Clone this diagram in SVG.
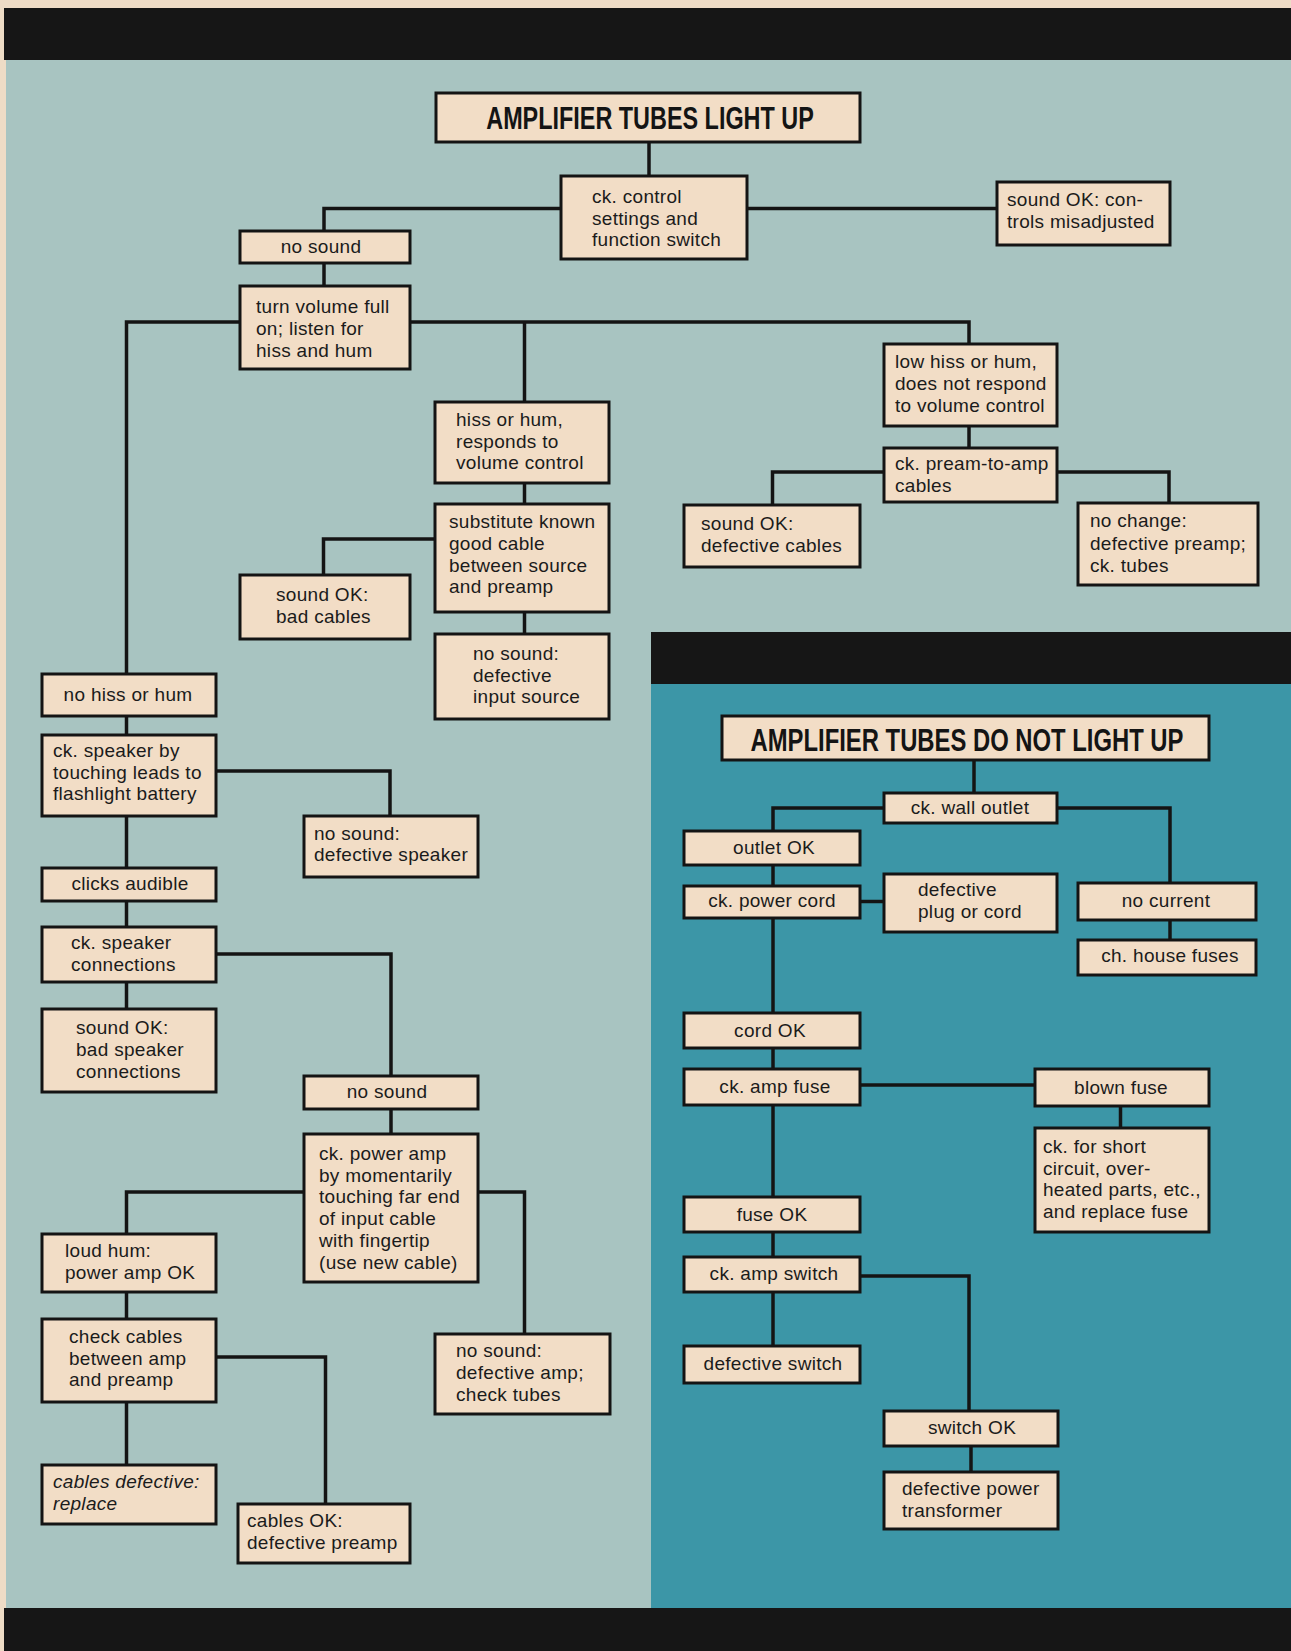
<svg xmlns="http://www.w3.org/2000/svg" width="1291" height="1651" viewBox="0 0 1291 1651">
<style>
.box{fill:#f2ddc6;stroke:#141414;stroke-width:3}
.t{font-family:"Liberation Sans",Arial,sans-serif;font-size:19px;fill:#1b1b1b;letter-spacing:0.3px}
.c{text-anchor:middle}
.ti{font-family:"Liberation Sans",Arial,sans-serif;font-weight:bold;fill:#141414;text-anchor:middle}
.it{font-style:italic}
#connectors path{fill:none;stroke:#141414;stroke-width:3.5}
</style>
<rect x="0" y="0" width="1291" height="1651" fill="#eedcc6"/>
<rect x="6" y="60" width="1285" height="1548" fill="#a8c4c1"/>
<rect x="651" y="684" width="640" height="924" fill="#3c96a7"/>
<rect x="651" y="632" width="640" height="52" fill="#161616"/>
<rect x="4" y="8" width="1287" height="52" fill="#161616"/>
<rect x="4" y="1608" width="1287" height="43" fill="#161616"/>

<g id="connectors">
<path d="M649 142V176"/>
<path d="M561 208.5H324V231"/>
<path d="M747 208.5H997"/>
<path d="M324 263V286"/>
<path d="M410 322H969V344"/>
<path d="M524.5 322V402"/>
<path d="M240 322H126.5V674"/>
<path d="M969 426V448"/>
<path d="M884 472H772.5V505"/>
<path d="M1057 472H1169V503"/>
<path d="M524.5 483V504"/>
<path d="M435 539H323.5V575"/>
<path d="M524.5 612V634"/>
<path d="M126.5 716V735"/>
<path d="M216 771H390V816"/>
<path d="M126.5 816V868"/>
<path d="M126.5 901V927"/>
<path d="M216 954H391V1076"/>
<path d="M126.5 982V1009"/>
<path d="M391 1109V1134"/>
<path d="M304 1192H126.5V1234"/>
<path d="M478 1192H524.5V1334"/>
<path d="M126.5 1292V1319"/>
<path d="M216 1357H325.5V1504"/>
<path d="M126.5 1402V1465"/>
<path d="M974 760V793"/>
<path d="M884 808H773V831"/>
<path d="M1057 808H1170V883"/>
<path d="M773 865V886"/>
<path d="M860 901.5H884"/>
<path d="M1170 920V940"/>
<path d="M773 918V1013"/>
<path d="M773 1048V1069"/>
<path d="M860 1085H1035"/>
<path d="M1120.5 1106V1128"/>
<path d="M773 1105V1197"/>
<path d="M773 1232V1257"/>
<path d="M860 1276H969V1411"/>
<path d="M773 1292V1346"/>
<path d="M971 1446V1472"/>
</g>

<g id="n-title1"><rect class="box" x="436" y="93" width="424" height="49"/><text class="ti" font-size="31" transform="translate(650 128.5) scale(0.755 1)">AMPLIFIER TUBES LIGHT UP</text></g>
<g id="n-ckcontrol"><rect class="box" x="561" y="176" width="186" height="83"/><text class="t" y="203"><tspan x="592">ck. control</tspan><tspan x="592" dy="21.5">settings and</tspan><tspan x="592" dy="21.5">function switch</tspan></text></g>
<g id="n-controls"><rect class="box" x="997" y="182" width="173" height="63"/><text class="t" y="206"><tspan x="1007">sound OK: con-</tspan><tspan x="1007" dy="22">trols misadjusted</tspan></text></g>
<g id="n-nosound1"><rect class="box" x="240" y="231" width="170" height="32"/><text class="t c" x="321" y="253">no sound</text></g>
<g id="n-turnvol"><rect class="box" x="240" y="286" width="170" height="83"/><text class="t" y="313"><tspan x="256">turn volume full</tspan><tspan x="256" dy="22">on; listen for</tspan><tspan x="256" dy="22">hiss and hum</tspan></text></g>
<g id="n-lowhiss"><rect class="box" x="884" y="344" width="173" height="82"/><text class="t" y="368"><tspan x="895">low hiss or hum,</tspan><tspan x="895" dy="22">does not respond</tspan><tspan x="895" dy="22">to volume control</tspan></text></g>
<g id="n-ckpream"><rect class="box" x="884" y="448" width="173" height="54"/><text class="t" y="470"><tspan x="895">ck. pream-to-amp</tspan><tspan x="895" dy="22">cables</tspan></text></g>
<g id="n-defcables"><rect class="box" x="684" y="505" width="176" height="62"/><text class="t" y="530"><tspan x="701">sound OK:</tspan><tspan x="701" dy="22">defective cables</tspan></text></g>
<g id="n-nochange"><rect class="box" x="1078" y="503" width="180" height="82"/><text class="t" y="527"><tspan x="1090">no change:</tspan><tspan x="1090" dy="22.5">defective preamp;</tspan><tspan x="1090" dy="22.5">ck. tubes</tspan></text></g>
<g id="n-hiss"><rect class="box" x="435" y="402" width="174" height="81"/><text class="t" y="426"><tspan x="456">hiss or hum,</tspan><tspan x="456" dy="21.5">responds to</tspan><tspan x="456" dy="21.5">volume control</tspan></text></g>
<g id="n-substitute"><rect class="box" x="435" y="504" width="174" height="108"/><text class="t" y="528"><tspan x="449">substitute known</tspan><tspan x="449" dy="21.8">good cable</tspan><tspan x="449" dy="21.8">between source</tspan><tspan x="449" dy="21.8">and preamp</tspan></text></g>
<g id="n-badcables"><rect class="box" x="240" y="575" width="170" height="64"/><text class="t" y="601"><tspan x="276">sound OK:</tspan><tspan x="276" dy="21.5">bad cables</tspan></text></g>
<g id="n-inputsource"><rect class="box" x="435" y="634" width="174" height="85"/><text class="t" y="660"><tspan x="473">no sound:</tspan><tspan x="473" dy="21.5">defective</tspan><tspan x="473" dy="21.5">input source</tspan></text></g>
<g id="n-nohiss"><rect class="box" x="42" y="674" width="174" height="42"/><text class="t c" x="128" y="701">no hiss or hum</text></g>
<g id="n-ckspeaker"><rect class="box" x="42" y="735" width="174" height="81"/><text class="t" y="757"><tspan x="53">ck. speaker by</tspan><tspan x="53" dy="21.5">touching leads to</tspan><tspan x="53" dy="21.5">flashlight battery</tspan></text></g>
<g id="n-defspeaker"><rect class="box" x="304" y="816" width="174" height="61"/><text class="t" y="840"><tspan x="314">no sound:</tspan><tspan x="314" dy="21">defective speaker</tspan></text></g>
<g id="n-clicks"><rect class="box" x="42" y="868" width="174" height="33"/><text class="t c" x="130" y="890">clicks audible</text></g>
<g id="n-ckspkconn"><rect class="box" x="42" y="927" width="174" height="55"/><text class="t" y="949"><tspan x="71">ck. speaker</tspan><tspan x="71" dy="21.5">connections</tspan></text></g>
<g id="n-badspkconn"><rect class="box" x="42" y="1009" width="174" height="83"/><text class="t" y="1034"><tspan x="76">sound OK:</tspan><tspan x="76" dy="22">bad speaker</tspan><tspan x="76" dy="22">connections</tspan></text></g>
<g id="n-nosound2"><rect class="box" x="304" y="1076" width="174" height="33"/><text class="t c" x="387" y="1098">no sound</text></g>
<g id="n-ckpoweramp"><rect class="box" x="304" y="1134" width="174" height="148"/><text class="t" y="1160"><tspan x="319">ck. power amp</tspan><tspan x="319" dy="21.7">by momentarily</tspan><tspan x="319" dy="21.7">touching far end</tspan><tspan x="319" dy="21.7">of input cable</tspan><tspan x="319" dy="21.7">with fingertip</tspan><tspan x="319" dy="21.7">(use new cable)</tspan></text></g>
<g id="n-loudhum"><rect class="box" x="42" y="1234" width="174" height="58"/><text class="t" y="1257"><tspan x="65">loud hum:</tspan><tspan x="65" dy="22">power amp OK</tspan></text></g>
<g id="n-checkcables"><rect class="box" x="42" y="1319" width="174" height="83"/><text class="t" y="1343"><tspan x="69">check cables</tspan><tspan x="69" dy="21.5">between amp</tspan><tspan x="69" dy="21.5">and preamp</tspan></text></g>
<g id="n-cablesdef"><rect class="box" x="42" y="1465" width="174" height="59"/><text class="t it" y="1488"><tspan x="53">cables defective:</tspan><tspan x="53" dy="22">replace</tspan></text></g>
<g id="n-cablesok"><rect class="box" x="238" y="1504" width="172" height="59"/><text class="t" y="1527"><tspan x="247">cables OK:</tspan><tspan x="247" dy="22">defective preamp</tspan></text></g>
<g id="n-defamp"><rect class="box" x="435" y="1334" width="175" height="80"/><text class="t" y="1357"><tspan x="456">no sound:</tspan><tspan x="456" dy="22">defective amp;</tspan><tspan x="456" dy="22">check tubes</tspan></text></g>

<g id="n-title2"><rect class="box" x="722" y="716" width="487" height="44"/><text class="ti" font-size="32" transform="translate(967 751) scale(0.745 1)">AMPLIFIER TUBES DO NOT LIGHT UP</text></g>
<g id="n-walloutlet"><rect class="box" x="884" y="793" width="173" height="30"/><text class="t c" x="970" y="814">ck. wall outlet</text></g>
<g id="n-outletok"><rect class="box" x="684" y="831" width="176" height="34"/><text class="t c" x="774" y="854">outlet OK</text></g>
<g id="n-powercord"><rect class="box" x="684" y="886" width="176" height="32"/><text class="t c" x="772" y="907">ck. power cord</text></g>
<g id="n-defplug"><rect class="box" x="884" y="874" width="173" height="58"/><text class="t" y="896"><tspan x="918">defective</tspan><tspan x="918" dy="22">plug or cord</tspan></text></g>
<g id="n-nocurrent"><rect class="box" x="1078" y="883" width="178" height="37"/><text class="t c" x="1166" y="907">no current</text></g>
<g id="n-housefuses"><rect class="box" x="1078" y="940" width="178" height="35"/><text class="t c" x="1170" y="962">ch. house fuses</text></g>
<g id="n-cordok"><rect class="box" x="684" y="1013" width="176" height="35"/><text class="t c" x="770" y="1037">cord OK</text></g>
<g id="n-ampfuse"><rect class="box" x="684" y="1069" width="176" height="36"/><text class="t c" x="775" y="1093">ck. amp fuse</text></g>
<g id="n-blownfuse"><rect class="box" x="1035" y="1069" width="174" height="37"/><text class="t c" x="1121" y="1094">blown fuse</text></g>
<g id="n-ckshort"><rect class="box" x="1035" y="1128" width="174" height="104"/><text class="t" y="1153"><tspan x="1043">ck. for short</tspan><tspan x="1043" dy="21.7">circuit, over-</tspan><tspan x="1043" dy="21.7">heated parts, etc.,</tspan><tspan x="1043" dy="21.7">and replace fuse</tspan></text></g>
<g id="n-fuseok"><rect class="box" x="684" y="1197" width="176" height="35"/><text class="t c" x="772" y="1221">fuse OK</text></g>
<g id="n-ampswitch"><rect class="box" x="684" y="1257" width="176" height="35"/><text class="t c" x="774" y="1280">ck. amp switch</text></g>
<g id="n-defswitch"><rect class="box" x="684" y="1346" width="176" height="37"/><text class="t c" x="773" y="1370">defective switch</text></g>
<g id="n-switchok"><rect class="box" x="884" y="1411" width="174" height="35"/><text class="t c" x="972" y="1434">switch OK</text></g>
<g id="n-transformer"><rect class="box" x="884" y="1472" width="174" height="57"/><text class="t" y="1495"><tspan x="902">defective power</tspan><tspan x="902" dy="22">transformer</tspan></text></g>
</svg>
